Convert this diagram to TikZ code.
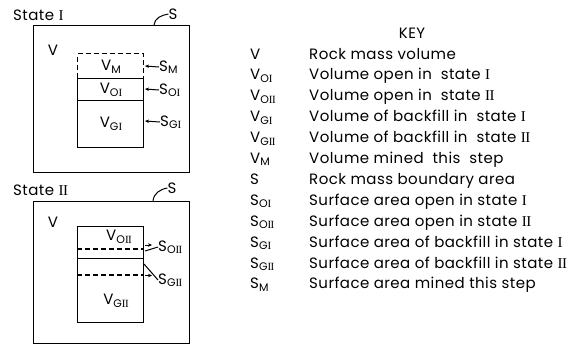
\documentclass[tikz,border=0pt]{standalone}
\usepackage{fontspec}
\setmainfont{Poppins}[LetterSpace=3]
\newfontfamily\rnf{Liberation Serif}
\usetikzlibrary{arrows.meta}
\newcommand{\RI}{{\rnf I}}
\newcommand{\RII}{{\rnf I\kern-0.6pt I}}
\newcommand{\sbs}[1]{\raisebox{-0.3ex}{\fontsize{11}{12}\selectfont #1}}
\begin{document}
\begin{tikzpicture}[x=1pt,y=-1pt,
  txt/.style={font=\fontsize{15}{16}\selectfont, inner sep=0pt},
  box/.style={draw, line width=1.4pt, anchor=north west, inner sep=0pt},
  dbox/.style={draw, dashed, dash pattern=on 5pt off 3pt, line width=1.2pt, anchor=north west, inner sep=0pt},
  dline/.style={dashed, dash pattern=on 5pt off 3pt, line width=1.2pt},
  lead/.style={line width=1pt, -{Stealth[length=4pt,width=3.5pt]}},
  thin/.style={line width=1pt}]
\useasboundingbox (0,0) rectangle (578,346);

% ---------- State I ----------
\node[txt, anchor=base west] (st1) at (13,20) {State \RI};
\node[box, minimum width=156pt, minimum height=147pt] (ob1) at (33,25) {};
\node[txt] (s1) at (173,14) {S};
\coordinate (s1c) at (154,25);
\draw[thin] (s1c) to[out=85,in=190] (s1.west);
\node[txt] (v1) at (53,50) {V};
\node[dbox, minimum width=66pt, minimum height=25pt] (vm1) at (77,53) {};
\node[box, minimum width=66pt, minimum height=22pt] (vo1) at (77,78) {};
\node[box, minimum width=66pt, minimum height=47pt] (vg1) at (77,100) {};
\node[txt] (lvm1) at (111,67) {V\sbs{M}};
\node[txt] (lvo1) at (111,90) {V\sbs{O\RI}};
\node[txt] (lvg1) at (111,124) {V\sbs{G\RI}};
\node[txt, anchor=west] (sm1) at (159,67) {S\sbs{M}};
\node[txt, anchor=west] (so1) at (159,90) {S\sbs{O\RI}};
\node[txt, anchor=west] (sg1) at (160,122) {S\sbs{G\RI}};
\coordinate (am1) at (145,66);
\coordinate (ao1) at (145,89);
\coordinate (ag1) at (145,121);
\draw[lead] (sm1.west) -- (am1);
\draw[lead] (so1.west) -- (ao1);
\draw[lead] (sg1.west) -- (ag1);

% ---------- State II ----------
\node[txt, anchor=base west] (st2) at (13,195) {State \RII};
\node[box, minimum width=156pt, minimum height=142pt] (ob2) at (33,201) {};
\node[txt] (s2) at (172,188) {S};
\coordinate (s2c) at (153,201);
\draw[thin] (s2c) to[out=85,in=190] (s2.west);
\node[txt] (v2) at (53,222) {V};
\node[box, minimum width=66pt, minimum height=32pt] (vo2) at (77,226) {};
\node[box, minimum width=66pt, minimum height=64pt] (vg2) at (77,258) {};
\coordinate (d1a) at (77,249);
\coordinate (d1b) at (143,249);
\coordinate (d2a) at (77,275);
\coordinate (d2b) at (143,275);
\draw[dline] (d1a) -- (d1b);
\draw[dline] (d2a) -- (d2b);
\node[txt] (lvo2) at (119,237) {V\sbs{O\RII}};
\node[txt] (lvg2) at (116,301) {V\sbs{G\RII}};
\node[txt, anchor=west] (so2) at (158,247) {S\sbs{O\RII}};
\node[txt, anchor=west] (sg2) at (158,280) {S\sbs{G\RII}};
\coordinate (p1) at (145,251);
\coordinate (p1h) at (145,245);
\coordinate (p1t) at (152,245);
\coordinate (p2) at (144,264);
\coordinate (p2h) at (145,275.5);
\coordinate (p2t) at (152,275.5);
\draw[thin] (p1) -- (so2.west);
\draw[lead] (p1h) -- (p1t);
\draw[thin] (p2) -- (sg2.west);
\draw[lead] (p2h) -- (p2t);

% ---------- Key ----------
\node[txt] (key) at (412,33) {KEY};
\foreach \i/\sy/\de in {
  0/{V}/{Rock mass volume},
  1/{V\sbs{O\RI}}/{Volume open in\ \ state \RI},
  2/{V\sbs{O\RII}}/{Volume open in\ \ state \RII},
  3/{V\sbs{G\RI}}/{Volume of backfill in\ \ state \RI},
  4/{V\sbs{G\RII}}/{Volume of backfill in\ \ state \RII},
  5/{V\sbs{M}}/{Volume mined\ \ this\ \ step},
  6/{S}/{Rock mass boundary area},
  7/{S\sbs{O\RI}}/{Surface area open in state \RI},
  8/{S\sbs{O\RII}}/{Surface area open in state \RII},
  9/{S\sbs{G\RI}}/{Surface area of backfill in state \RI},
  10/{S\sbs{G\RII}}/{Surface area of backfill in state \RII},
  11/{S\sbs{M}}/{Surface area mined this step}} {
  \node[txt, anchor=base west] (ks\i) at (250,59+20.9*\i) {\sy};
  \node[txt, anchor=base west] (kd\i) at (309,59+20.9*\i) {\de};
}
\end{tikzpicture}
\end{document}
